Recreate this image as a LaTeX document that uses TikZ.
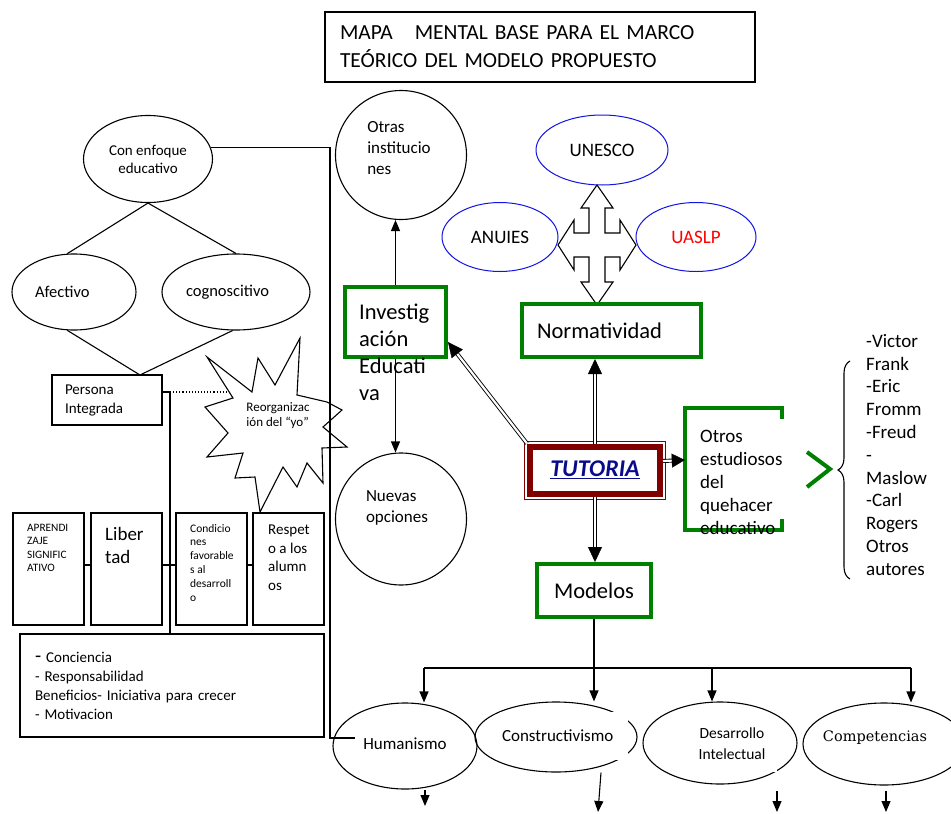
\documentclass[tikz,border=0pt]{standalone}
\usepackage{fontspec}
\setmainfont{Carlito}
\newfontfamily\compfont{DejaVu Serif}
\usetikzlibrary{shapes.geometric,arrows.meta,decorations.pathreplacing}

\definecolor{verde}{RGB}{0,128,0}
\definecolor{azul}{RGB}{20,20,225}
\definecolor{guinda}{RGB}{128,0,0}
\definecolor{marino}{RGB}{10,10,140}
\newcommand{\tam}[2]{\fontsize{#1}{#2}\selectfont}

\tikzset{
  linea/.style={line width=1.1pt},
  caja/.style={draw, line width=1.1pt, inner sep=0pt},
  fila/.style={caja, minimum width=71pt, minimum height=112pt},
  ovalo/.style={draw, ellipse, line width=1.1pt, inner sep=0pt},
  ovaloazul/.style={draw=azul, ellipse, line width=1pt, inner sep=0pt, font=\tam{19}{22}},
  verdebox/.style={draw=verde, line width=4pt, inner sep=0pt},
  texto/.style={align=left, inner sep=0pt, anchor=north west},
  tapa/.style={fill=white, inner sep=0pt},
  flecha/.style={line width=1.1pt, -{Triangle[width=9pt,length=11pt]}},
  doble/.style={double, double distance=2.2pt, line width=0.9pt, shorten >=14pt},
  punta/.style={white, line width=0.4pt, -{Triangle[width=14pt,length=15pt,color=black]}},
}

\begin{document}
\begin{tikzpicture}[x=1pt,y=-1pt]
\useasboundingbox (0,0) rectangle (951,814);
\fill[white] (0,0) rectangle (951,814);

% titulo
\node[caja, minimum width=430pt, minimum height=70pt, text width=400pt, align=left, font=\tam{21.5}{28}] (titulo) at (540,47)
  {MAPA\hspace{22pt}MENTAL BASE PARA EL MARCO\\TEÓRICO DEL MODELO PROPUESTO};

% lado izquierdo
\node[ovalo, minimum width=129pt, minimum height=87pt, align=center, font=\tam{15}{18}] (enfoque) at (148,159) {Con enfoque\\educativo};
\node[ovalo, minimum width=124pt, minimum height=76pt, text width=78pt, align=left, font=\tam{16.5}{20}] (afectivo) at (74,292) {Afectivo};
\node[ovalo, minimum width=148pt, minimum height=76pt, text width=100pt, align=left, font=\tam{16.5}{20}] (cogn) at (236,292) {cognoscitivo};
\node[caja, minimum width=110pt, minimum height=50pt, text width=84pt, align=left, font=\tam{15}{19}] (persona) at (107,400) {Persona\\Integrada};
\coordinate (vertice) at (140,375);
\draw[linea] (enfoque.south) -- (afectivo.100);
\draw[linea] (enfoque.south) -- (cogn.north);
\draw[linea] (afectivo.-100) -- (vertice);
\draw[linea] (cogn.-95) -- (vertice);

% estrella
\draw[linea, fill=white] (207,357) -- (252,392) -- (258,358) -- (275,385) -- (300,338) -- (297,395)
  -- (327,402) -- (342,410) -- (323,427) -- (347,447) -- (322,448) -- (323,483) -- (307,463)
  -- (297,487) -- (283,467) -- (260,512) -- (255,477) -- (235,478) -- (243,453) -- (207,457)
  -- (228,433) -- (205,407) -- (233,398) -- cycle;
\node[align=left, inner sep=0pt, font=\tam{13}{15}] (yo) at (278,416) {Reorganizac\\ión del “yo”};

% fila de cajas
\foreach \n/\x in {aprendizaje/48.5, libertad/126.5, condiciones/211.5, respeto/288.5}
  \node[fila] (\n) at (\x,569) {};
\node[texto, font=\tam{11.3}{13.5}] (aprendizajetxt) at (27,524) {APRENDI\\ZAJE\\SIGNIFIC\\ATIVO};
\node[texto, font=\tam{19}{23}] (libertadtxt) at (105,527) {Liber\\tad};
\node[texto, font=\tam{11.5}{13.8}] (condicionestxt) at (190,524) {Condicio\\nes\\favorable\\s al\\desarroll\\o};
\node[texto, font=\tam{15}{18.5}] (respetotxt) at (268,525) {Respet\\o a los\\alumn\\os};
\node[caja, minimum width=304pt, minimum height=103pt, text width=274pt, align=left, font=\tam{15}{19}] (beneficios) at (172,685.5)
  {{\tam{20}{19}-}\ Conciencia\\- Responsabilidad\\Beneficios- Iniciativa para crecer\\- Motivacion};

\coordinate (nudo) at (170,392);
\coordinate (estrella) at (226,392);
\draw[linea] ([yshift=8pt]persona.east) -- (nudo);
\draw[linea, dotted] (nudo) -- (estrella);
\draw[linea] (nudo) -- (nudo |- beneficios.north);
\draw[linea] ([yshift=4pt]aprendizaje.east) -- ([yshift=4pt]libertad.west);
\draw[linea] ([yshift=4pt]libertad.east) -- ([yshift=4pt]condiciones.west);
\draw[linea] ([yshift=4pt]condiciones.east) -- ([yshift=4pt]respeto.west);

% centro
\node[ovalo, minimum width=131pt, minimum height=129pt] (otras) at (401,155) {};
\node[align=left, inner sep=0pt, font=\tam{17}{21}] (otrastxt) at (399,148) {Otras\\institucio\\nes};
\node[verdebox, minimum width=101pt, minimum height=70pt] (invest) at (395.5,322) {};
\node[texto, font=\tam{22.5}{27}] (investtxt) at (359,304) {Investig\\ación\\Educati\\va};
\node[ovalo, minimum width=131pt, minimum height=132pt] (nuevas) at (401,519) {};
\node[align=left, inner sep=0pt, font=\tam{17}{21}] (nuevastxt) at (397,508) {Nuevas\\opciones};
\draw[flecha] (invest.north) -- (invest.north |- otras.south);
\draw[flecha] (invest.south) -- (invest.south |- nuevas.north);

\node[ovaloazul, minimum width=132pt, minimum height=70pt] (unesco) at (602,150) {UNESCO};
\node[ovaloazul, minimum width=116pt, minimum height=69pt] (anuies) at (500,237) {ANUIES};
\node[ovaloazul, minimum width=120pt, minimum height=69pt, text=red] (uaslp) at (696,237) {UASLP};
\draw[linea, fill=white] (597,185) -- (613,208) -- (605,208) -- (605,233) -- (620,233) -- (620,220)
  -- (636,245) -- (620,270) -- (620,257) -- (605,257) -- (605,282) -- (613,282) -- (597,305)
  -- (581,282) -- (589,282) -- (589,257) -- (574,257) -- (574,270) -- (558,245) -- (574,220)
  -- (574,233) -- (589,233) -- (589,208) -- (581,208) -- cycle;

\node[verdebox, minimum width=179pt, minimum height=53pt, text width=149pt, align=left, font=\tam{22.5}{27}] (norm) at (611.5,330.5) {Normatividad};

\node[draw=guinda, line width=6pt, minimum width=130pt, minimum height=47pt, inner sep=0pt, text=marino, font=\tam{24}{28}] (tut) at (595,470)
  {\textbf{\textit{\underline{TUTORIA}}}};
\draw[guinda, line width=0.8pt] ([xshift=-2.5pt,yshift=2.5pt]tut.north west) rectangle ([xshift=2.5pt,yshift=-2.5pt]tut.south east);

\node[verdebox, minimum width=114pt, minimum height=53pt, font=\tam{22.5}{27}] (modelos) at (594,590.5) {Modelos};
\node[minimum width=97pt, minimum height=122pt, inner sep=0pt] (otros) at (733.5,469) {};
\draw[verde, line width=4pt] ([yshift=-11pt]otros.north east) -- (otros.north east) -- (otros.north west)
  -- (otros.south west) -- (otros.south east) -- ([yshift=11pt]otros.south east);
\node[texto, font=\tam{19}{23}] (otrostxt) at (700,430) {Otros\\estudiosos\\del\\quehacer\\educativo};

\draw[doble] (tut.north) -- (tut.north |- norm.south);
\draw[punta] (tut.north) -- (tut.north |- norm.south);
\draw[doble] (tut.north west) -- ([yshift=-20pt]invest.east);
\draw[punta] (tut.north west) -- ([yshift=-20pt]invest.east);
\draw[doble] (tut.south) -- (tut.south |- modelos.north);
\draw[punta] (tut.south) -- (tut.south |- modelos.north);
\draw[doble, shorten >=12pt] ([yshift=9pt]tut.east) -- ([yshift=9pt]otros.west);
\draw[punta, -{Triangle[width=14pt,length=13pt,color=black]}] ([yshift=9pt]tut.east) -- ([yshift=9pt]otros.west);

% derecha
\draw[verde, line width=4pt] (807,452) -- (830,469) -- (807,487);
\draw[linea, decorate, decoration={brace, amplitude=12pt}] (850,579) -- (850,361);
\node[texto, font=\tam{19}{22.8}] (autores) at (866,334) {-Victor\\Frank\\-Eric\\Fromm\\-Freud\\-\\Maslow\\-Carl\\Rogers\\Otros\\autores};

% modelos
\node[ovalo, minimum width=144pt, minimum height=86pt] (hum) at (405,746) {};
\node[ovalo, minimum width=162pt, minimum height=70pt] (cons) at (556,737) {};
\node[ovalo, minimum width=154pt, minimum height=82pt] (des) at (720,743) {};
\node[ovalo, minimum width=162pt, minimum height=82pt] (comp) at (884,744) {};
\node[tapa, minimum width=100pt, minimum height=53pt, font=\tam{17}{20}] (humtxt) at (405,746.5) {\raisebox{6pt}{Humanismo}};
\node[tapa, minimum width=128pt, minimum height=48pt, text width=124pt, align=left, font=\tam{17}{20}] (constxt) at (564,736) {Constructivismo};
\node[tapa, minimum width=90pt, minimum height=56pt, align=center, font=\tam{15.5}{21}] (destxt) at (732,744) {Desarrollo\\Intelectual};
\node[inner sep=0pt, font=\compfont\tam{14.5}{18}] (comptxt) at (875,738) {Competencias};

\coordinate (esquina) at (330,738);
\draw[linea] (enfoque.10) -| (esquina) -- (esquina -| humtxt.west);

\coordinate (ramaH) at (424,668);
\coordinate (ramaD) at (712,668);
\coordinate (ramaC) at (911,668);
\draw[linea] (ramaH) -- (ramaC);
\draw[flecha] (ramaH) -- (ramaH |- hum.north);
\draw[flecha] (modelos.south) -- (modelos.south |- cons.north);
\draw[flecha] (ramaD) -- (ramaD |- des.north);
\draw[flecha] (ramaC) -- (ramaC |- comp.north);

\coordinate (finH) at (425,806);
\coordinate (finC) at (598,812);
\coordinate (iniD) at (777,791);
\coordinate (finD) at (777,812);
\coordinate (iniK) at (886,791);
\coordinate (finK) at (886,812);
\draw[flecha] (finH |- hum.south) -- (finH);
\draw[flecha] ([xshift=45pt]cons.south) -- (finC);
\draw[flecha] (iniD) -- (finD);
\draw[flecha] (iniK) -- (finK);
\end{tikzpicture}
\end{document}
